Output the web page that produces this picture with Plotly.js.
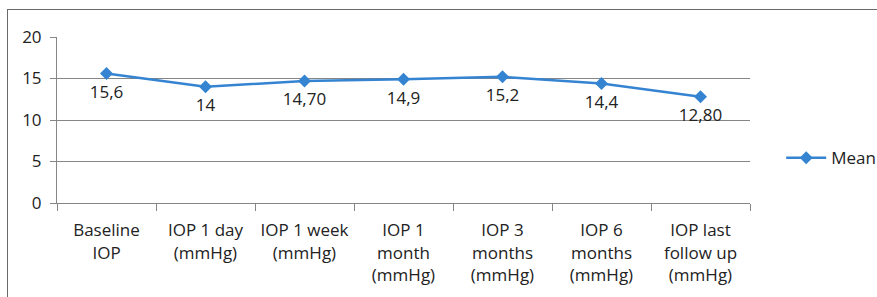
<!DOCTYPE html>
<html>
<head>
<meta charset="utf-8">
<script src="https://cdn.plot.ly/plotly-3.0.1.min.js"></script>
<style>
html,body{margin:0;padding:0;background:#fff;}
#wrap{position:relative;width:877px;height:297px;overflow:hidden;}
#chart{position:absolute;left:0;top:0;width:877px;height:297px;}
#frame{position:absolute;left:7px;top:9px;width:900px;height:400px;border-left:1.5px solid #6a6a6a;border-top:1.5px solid #6a6a6a;pointer-events:none;}
</style>
</head>
<body>
<div id="wrap"><div id="chart"></div><div id="frame"></div></div>
<script>
const categories = ["Baseline<br>IOP", "IOP 1 day<br>(mmHg)", "IOP 1 week<br>(mmHg)", "IOP 1<br>month<br>(mmHg)", "IOP 3<br>months<br>(mmHg)", "IOP 6<br>months<br>(mmHg)", "IOP last<br>follow up<br>(mmHg)"];
const meanValues = [15.6, 14, 14.7, 14.9, 15.2, 14.4, 12.8];
const valueLabels = ["15,6", "14", "14,70", "14,9", "15,2", "14,4", "12,80"];
const yTicks = [0, 5, 10, 15, 20];

const lineTrace = {
  type: "scatter",
  mode: "lines+markers",
  name: "Mean",
  x: categories,
  y: meanValues,
  line: {color: "#3584d2", width: 2.5},
  marker: {symbol: "diamond", size: 10, color: "#3584d2"},
  cliponaxis: false
};

const labelTrace = {
  type: "scatter",
  mode: "markers+text",
  name: "Mean labels",
  showlegend: false,
  x: categories,
  y: meanValues,
  text: valueLabels,
  textposition: "bottom center",
  textfont: {family: "Open Sans, sans-serif", size: 17, color: "#222"},
  marker: {size: 17, opacity: 0},
  cliponaxis: false
};

const layout = {
  width: 877, height: 297,
  margin: {l: 57, r: 127, t: 37, b: 94, autoexpand: false},
  paper_bgcolor: "#fff", plot_bgcolor: "#fff",
  font: {family: "Open Sans, sans-serif", size: 17, color: "#222"},
  showlegend: true,
  legend: {x: 1.045, y: 0.27, xanchor: "left", yanchor: "middle", itemwidth: 40, font: {size: 17, color: "#222"}, bgcolor: "rgba(0,0,0,0)"},
  xaxis: {
    type: "category",
    tickson: "boundaries",
    tickangle: 0,
    automargin: false,
    ticks: "outside", ticklen: 7, tickcolor: "#868686", tickwidth: 1,
    showline: true, linecolor: "#868686", linewidth: 1,
    showgrid: false, zeroline: false,
    tickfont: {size: 17, color: "#222"},
    ticklabelstandoff: 12,
    range: [-0.5, 6.5], fixedrange: true
  },
  yaxis: {
    range: [0, 20], tickvals: yTicks,
    automargin: false,
    ticks: "outside", ticklen: 6, tickcolor: "#868686",
    showline: true, linecolor: "#868686", linewidth: 1,
    showgrid: true, gridcolor: "#868686", gridwidth: 1,
    zeroline: false,
    tickfont: {size: 17, color: "#222"},
    ticklabelstandoff: 5,
    fixedrange: true
  }
};

Plotly.newPlot("chart", [lineTrace, labelTrace], layout, {displayModeBar: false, staticPlot: true});
</script>
</body>
</html>
